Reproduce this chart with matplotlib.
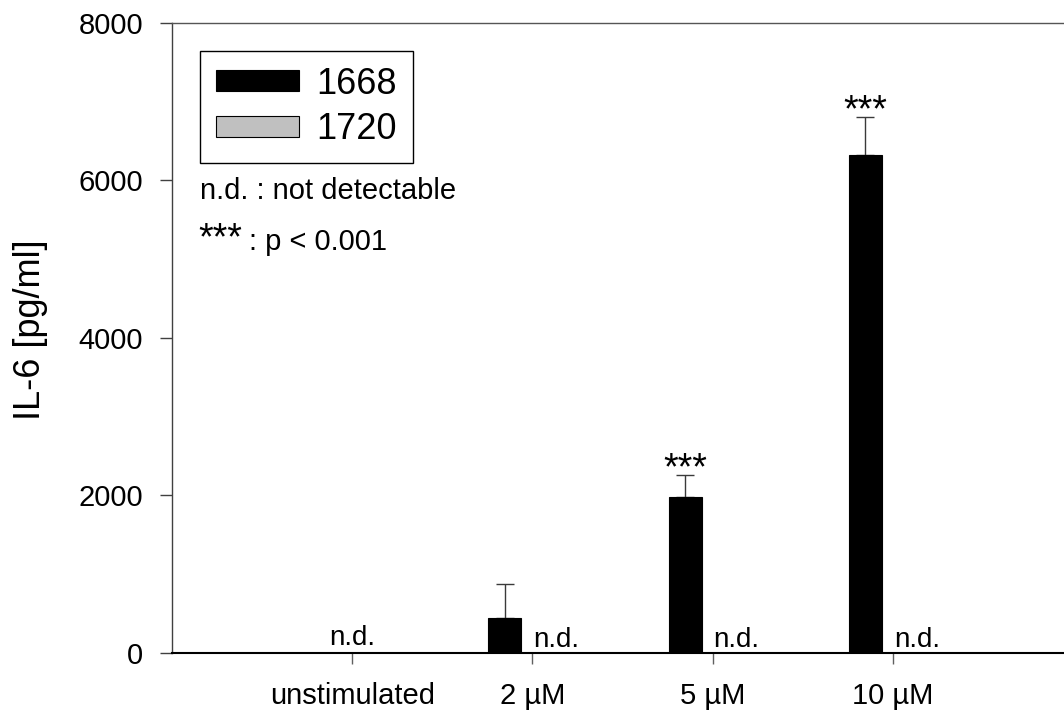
import numpy as np
import matplotlib
matplotlib.use("Agg")
import matplotlib.pyplot as plt

plt.rcParams["font.family"] = ["Liberation Sans", "DejaVu Sans"]

# IL-6 release per stimulation condition (NaN = not detectable)
categories = ["unstimulated", "2 µM", "5 µM", "10 µM"]
series_names = ["1668", "1720"]
il6_1668 = [np.nan, 440, 1980, 6320]
err_1668 = [np.nan, 430, 280, 480]
il6_1720 = [np.nan, np.nan, np.nan, np.nan]
err_1720 = [np.nan, np.nan, np.nan, np.nan]
significance = ["", "", "***", "***"]
y_ticks = [0, 2000, 4000, 6000, 8000]

fig = plt.figure(figsize=(10.64, 7.13), dpi=100)
ax = fig.add_axes([0.1617, 0.0846, 0.8468, 0.8836])

x = np.arange(len(categories))
width = 0.183
off_a = -0.153
off_b = off_a + width

v1 = np.nan_to_num(np.array(il6_1668, dtype=float))
v2 = np.nan_to_num(np.array(il6_1720, dtype=float))

b1 = ax.bar(x + off_a, v1, width, color="black", edgecolor="black",
            linewidth=0.8, label=series_names[0], zorder=3)
b2 = ax.bar(x + off_b, v2, width, color="#c0c0c0", edgecolor="black",
            linewidth=0.8, label=series_names[1], zorder=3)

# one-sided (upper) error bars
e1 = np.array(err_1668, dtype=float)
mask = ~np.isnan(e1)
ax.errorbar((x + off_a)[mask], v1[mask], yerr=[np.zeros(mask.sum()), e1[mask]],
            fmt="none", ecolor="#3a3a3a", elinewidth=1.0, capsize=6.5,
            capthick=1.0, zorder=2)

# significance stars above error bars
for i, s in enumerate(significance):
    if s:
        top = il6_1668[i] + err_1668[i]
        ax.annotate(s, xy=(x[i] + off_a, top), xytext=(0, -3),
                    textcoords="offset points", ha="center", va="baseline",
                    fontsize=27)

# "n.d." markers for values below detection limit
for i in range(len(categories)):
    nd1 = np.isnan(il6_1668[i])
    nd2 = np.isnan(il6_1720[i])
    if nd1 and nd2:
        ax.text(x[i], 100, "n.d.", ha="center", va="baseline", fontsize=20)
    elif nd2:
        ax.text(x[i] + 0.005, 70, "n.d.", ha="left", va="baseline", fontsize=20)

ax.set_xlim(-1, 4)
ax.set_ylim(0, 8000)
ax.set_yticks(y_ticks)
ax.set_yticklabels([str(t) for t in y_ticks])
ax.set_xticks(x)
ax.set_xticklabels(categories)

ax.tick_params(axis="y", direction="out", length=9, width=1, color="#404040",
               labelsize=21, pad=12)
ax.tick_params(axis="x", direction="out", length=8, width=1, color="#606060",
               labelsize=21, pad=13)

ax.spines["left"].set_color("#404040")
ax.spines["left"].set_linewidth(1.0)
ax.spines["bottom"].set_color("black")
ax.spines["bottom"].set_linewidth(1.5)
ax.spines["top"].set_color("#555555")
ax.spines["top"].set_linewidth(1.0)
ax.spines["right"].set_visible(False)

ax.set_ylabel("IL-6 [pg/ml]", fontsize=26, va="center")
ax.yaxis.set_label_coords(-0.157, 0.512)

leg = ax.legend(handles=[b1, b2], loc="upper left",
                bbox_to_anchor=(0.0311, 0.955), borderaxespad=0,
                fontsize=26, handlelength=2.3, handleheight=0.5,
                handletextpad=0.5, borderpad=0.43, labelspacing=0.3,
                fancybox=False, framealpha=1)
leg.get_frame().set_edgecolor("black")
leg.get_frame().set_linewidth(1.0)

ax.text(0.0305, 0.7202, "n.d. : not detectable", transform=ax.transAxes,
        ha="left", va="baseline", fontsize=21)
ax.text(0.0295, 0.6395, "***", transform=ax.transAxes,
        ha="left", va="baseline", fontsize=27)
ax.text(0.0855, 0.6395, ": p < 0.001", transform=ax.transAxes,
        ha="left", va="baseline", fontsize=21)

fig.savefig("out.png", dpi=100)
